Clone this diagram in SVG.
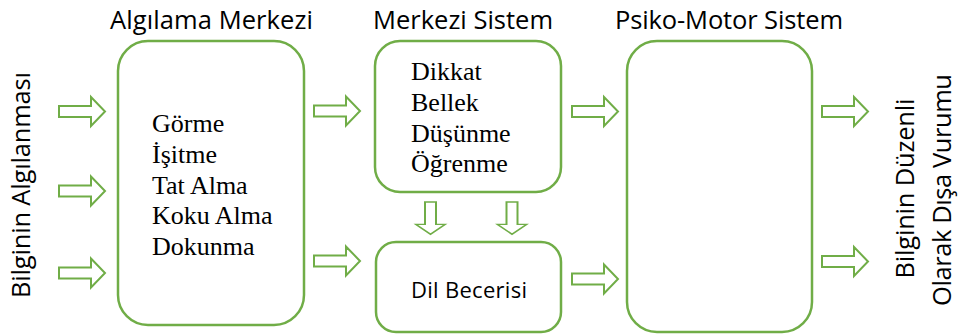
<svg xmlns="http://www.w3.org/2000/svg" xmlns:xlink="http://www.w3.org/1999/xlink" width="960" height="335" viewBox="0 0 960 335">
<style>
.box{fill:#fff;stroke:#70AD47;stroke-width:2.5}
.arr{fill:#fff;stroke:#70AD47;stroke-width:2;stroke-linejoin:miter}
.sans{font-family:"Open Sans","Liberation Sans",sans-serif;fill:#000}
.serif{font-family:"Liberation Serif","Times New Roman",serif;font-size:26px;fill:#000}
</style>
<defs>
<path id="ra" class="arr" d="M0,-5.5 H32 V-14.5 L46,0 L32,14.5 V5.5 H0 Z"/>
</defs>
<rect width="960" height="335" fill="#fff"/>
<g id="labels">
<text class="sans" font-size="25.5" text-anchor="middle" textLength="226" transform="translate(30,185) rotate(-90)">Bilginin Algılanması</text>
<text class="sans" font-size="25.5" text-anchor="middle" textLength="180" transform="translate(914,188.5) rotate(-90)">Bilginin Düzenli</text>
<text class="sans" font-size="25.5" text-anchor="middle" textLength="232" transform="translate(951,190) rotate(-90)">Olarak Dışa Vurumu</text>
</g>
<g id="algilama">
<text class="sans" font-size="25.5" x="211.5" y="29" text-anchor="middle" textLength="203">Algılama Merkezi</text>
<rect class="box" x="118" y="41" width="186" height="284" rx="30" ry="30"/>
<text class="serif" x="152" y="132">Görme</text>
<text class="serif" x="152" y="162.75">İşitme</text>
<text class="serif" x="152" y="193.5">Tat Alma</text>
<text class="serif" x="152" y="224.25">Koku Alma</text>
<text class="serif" x="152" y="255">Dokunma</text>
</g>
<g id="merkezi">
<text class="sans" font-size="25.5" x="463" y="29" text-anchor="middle" textLength="180">Merkezi Sistem</text>
<rect class="box" x="375" y="41" width="186" height="151" rx="25" ry="25"/>
<text class="serif" x="411" y="80">Dikkat</text>
<text class="serif" x="411" y="110.75">Bellek</text>
<text class="serif" x="411" y="141.5">Düşünme</text>
<text class="serif" x="411" y="172.25">Öğrenme</text>
</g>
<g id="dil">
<rect class="box" x="376" y="242" width="185" height="90" rx="20" ry="20"/>
<text class="sans" font-size="22" x="411" y="298" textLength="116">Dil Becerisi</text>
</g>
<g id="psiko">
<text class="sans" font-size="25.5" x="729" y="29" text-anchor="middle" textLength="228">Psiko-Motor Sistem</text>
<rect class="box" x="627" y="41" width="185" height="291" rx="30" ry="30"/>
</g>
<g id="connectors">
<use xlink:href="#ra" transform="translate(59,111.5)"/>
<use xlink:href="#ra" transform="translate(59,191)"/>
<use xlink:href="#ra" transform="translate(59,273)"/>
<use xlink:href="#ra" transform="translate(314,111)"/>
<use xlink:href="#ra" transform="translate(314,261)"/>
<use xlink:href="#ra" transform="translate(572,111.5)"/>
<use xlink:href="#ra" transform="translate(572,279)"/>
<use xlink:href="#ra" transform="translate(822,111.5)"/>
<use xlink:href="#ra" transform="translate(822,261.5)"/>
<use xlink:href="#ra" transform="translate(430.5,202) rotate(90) scale(0.7,1)"/>
<use xlink:href="#ra" transform="translate(512,202) rotate(90) scale(0.7,1)"/>
</g>
</svg>
